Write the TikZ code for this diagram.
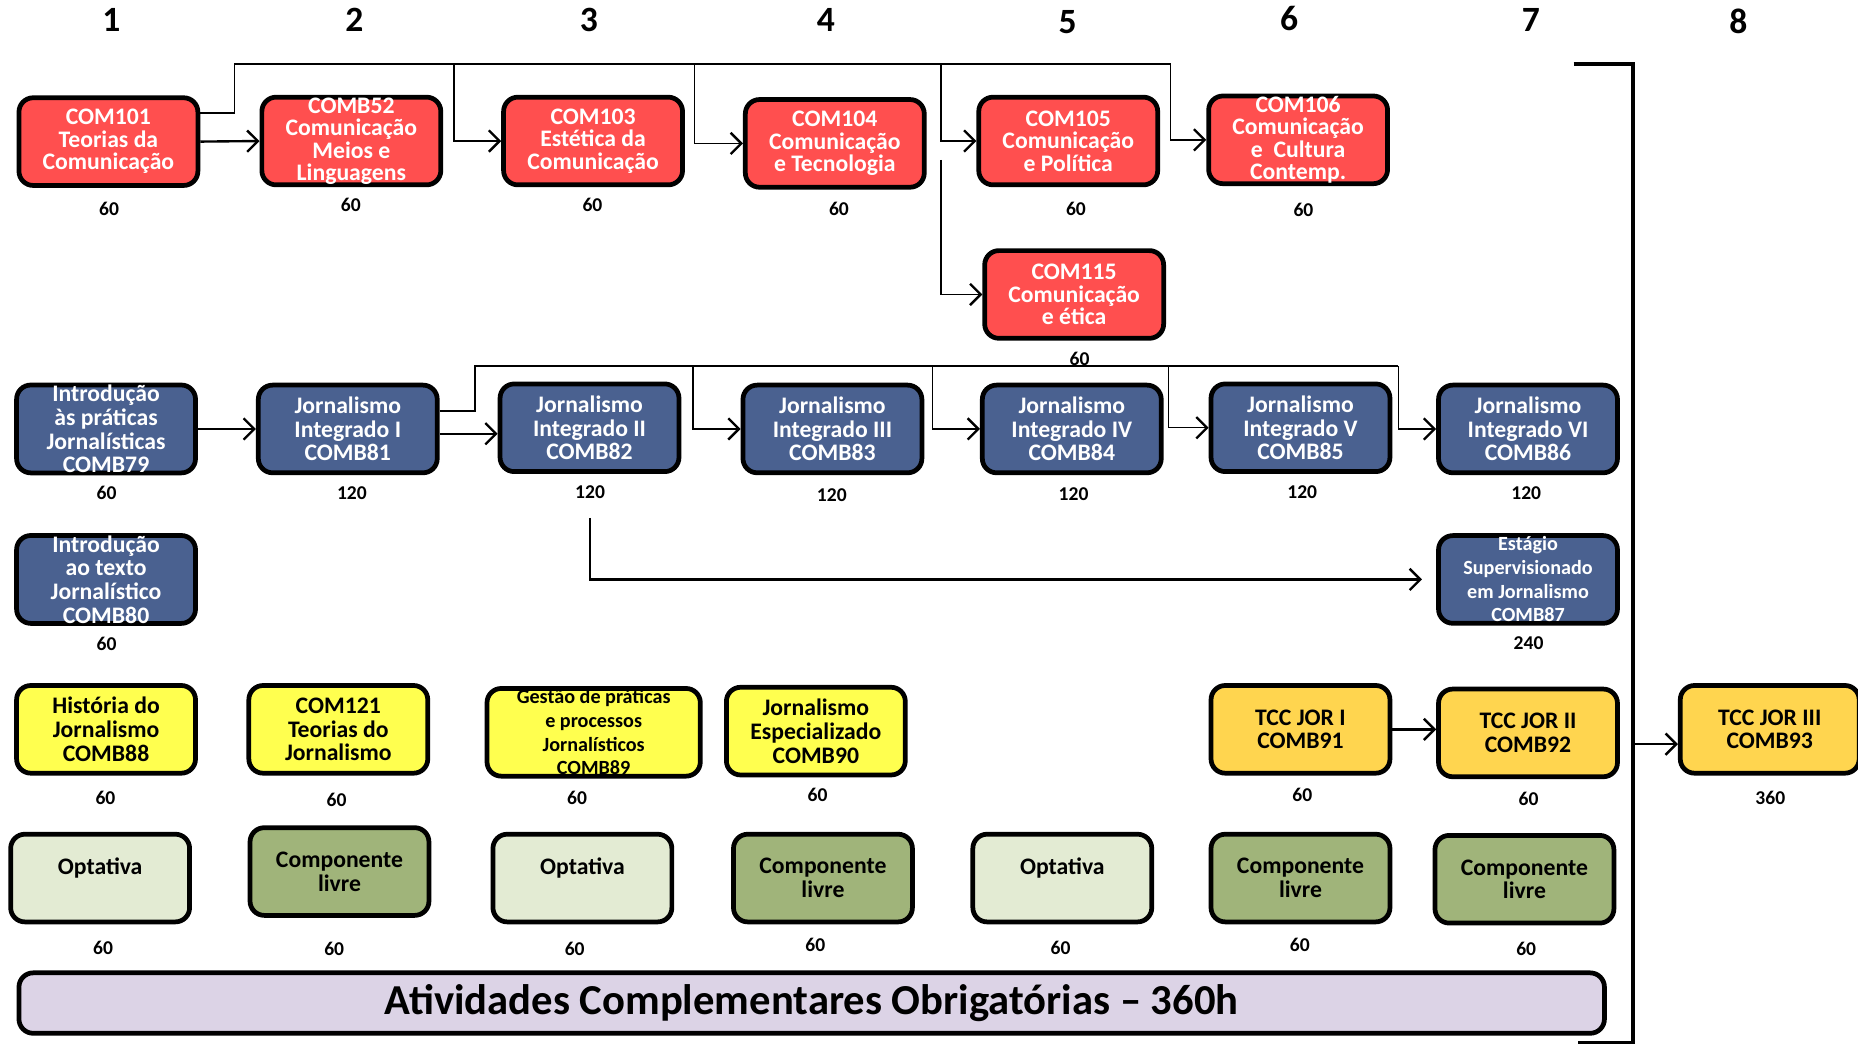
\documentclass[tikz,border=0pt]{standalone}
\usepackage{fontspec}
\setmainfont{Carlito}
\usetikzlibrary{arrows.meta}

\definecolor{comred}{HTML}{FF4F4F}
\definecolor{jorblue}{HTML}{4A6190}
\definecolor{hisyellow}{HTML}{FFFF4F}
\definecolor{tccgold}{HTML}{FFD54F}
\definecolor{optgreen}{HTML}{E3EBD3}
\definecolor{livgreen}{HTML}{A0B47A}
\definecolor{acolilac}{HTML}{DCD3E6}

\tikzset{
  course/.style={draw=black, line width=4pt, rounded corners=12pt,
    minimum width=151pt, minimum height=74pt, inner sep=0pt, align=center,
    font=\bfseries\fontsize{20}{20}\selectfont},
  redbox/.style={course, fill=comred, text=white,
    font=\bfseries\fontsize{20}{19}\selectfont},
  bluebox/.style={course, fill=jorblue, text=white},
  yellowbox/.style={course, fill=hisyellow},
  goldbox/.style={course, fill=tccgold},
  optbox/.style={course, fill=optgreen},
  livbox/.style={course, fill=livgreen},
  hours/.style={font=\bfseries\fontsize{16.5}{16.5}\selectfont},
  colnum/.style={font=\bfseries\fontsize{30}{30}\selectfont},
  link/.style={line width=2pt, -{Straight Barb[length=9pt,width=18pt,line width=2pt]}},
  bus/.style={line width=1.2pt},
  drop/.style={bus, -{Straight Barb[length=9pt,width=18pt,line width=2pt]}},
}

\begin{document}
\begin{tikzpicture}[x=1pt,y=-1pt]
\useasboundingbox (0,0) rectangle (1568,881);

% semesters
\foreach \n/\x/\y in {1/94/17,2/299/17,3/497/17,4/697/17,5/901/19,6/1088/16,7/1292/17,8/1467/18}
{
    \node[colnum] (col\n) at (\x,\y) {\n};
}

% first row
\node[redbox] (com101) at (91.5,119.5) {COM101\\Teorias da\\Comunicação};
\node[redbox] (comb52) at (296.5,119) {COMB52\\Comunicação\\Meios e\\Linguagens};
\node[redbox] (com103) at (500.5,119) {COM103\\Estética da\\Comunicação};
\node[redbox] (com104) at (704.5,121) {COM104\\Comunicação\\e Tecnologia};
\node[redbox] (com105) at (901.5,119) {COM105\\Comunicação\\e Política};
\node[redbox] (com106) at (1095.5,118) {COM106\\Comunicação\\e\ \ Cultura\\Contemp.};
\node[redbox] (com115) at (906.5,248.5) {COM115\\Comunicação\\e ética};

% second row
\node[bluebox] (comb79) at (89.5,362) {Introdução\\às práticas\\Jornalísticas\\COMB79};
\node[bluebox] (comb81) at (293.5,362) {Jornalismo\\Integrado I\\COMB81};
\node[bluebox] (comb82) at (497.5,361) {Jornalismo\\Integrado II\\COMB82};
\node[bluebox] (comb83) at (702.5,362) {Jornalismo\\Integrado III\\COMB83};
\node[bluebox] (comb84) at (904.5,362) {Jornalismo\\Integrado IV\\COMB84};
\node[bluebox] (comb85) at (1097.5,361) {Jornalismo\\Integrado V\\COMB85};
\node[bluebox] (comb86) at (1289.5,362) {Jornalismo\\Integrado VI\\COMB86};
\node[bluebox] (comb80) at (89.5,489) {Introdução\\ao texto\\Jornalístico\\COMB80};
\node[bluebox, font=\bfseries\fontsize{17}{20}\selectfont] (comb87) at (1289.5,489)
    {Estágio\\Supervisionado\\em Jornalismo\\COMB87};

% third row
\node[yellowbox] (comb88) at (89.5,615.5) {História do\\Jornalismo\\COMB88};
\node[yellowbox] (com121) at (285.5,615.5) {COM121\\Teorias do\\Jornalismo};
\node[yellowbox, minimum width=180pt, font=\bfseries\fontsize{17}{20}\selectfont] (comb89) at (501,618)
    {Gestão de práticas\\e processos\\Jornalísticos\\COMB89};
\node[yellowbox] (comb90) at (688.5,617) {Jornalismo\\Especializado\\COMB90};
\node[goldbox] (comb91) at (1097.5,615.5) {TCC JOR I\\COMB91};
\node[goldbox] (comb92) at (1289.5,618.5) {TCC JOR II\\COMB92};
\node[goldbox] (comb93) at (1493.5,615.5) {TCC JOR III\\COMB93};

% fourth row
\node[optbox] (opt1) at (84.5,741) {Optativa\\\mbox{}};
\node[livbox] (liv2) at (286.5,735.5) {Componente\\livre};
\node[optbox] (opt3) at (491.5,741) {Optativa\\\mbox{}};
\node[livbox] (liv4) at (694.5,741) {Componente\\livre};
\node[optbox] (opt5) at (896.5,741) {Optativa\\\mbox{}};
\node[livbox] (liv6) at (1097.5,741) {Componente\\livre};
\node[livbox] (liv7) at (1286.5,742) {Componente\\livre};

% hours
\foreach \nm/\x/\y/\h in {101/92/176/60, 52/296/173/60, 103/500/173/60, 104/708/176/60,
    105/908/176/60, 106/1100/177/60, 115/911/303/60,
    79/90/416/60, 81/297/416/120, 82/498/415/120, 83/702/418/120, 84/906/417/120,
    85/1099/415/120, 86/1288/416/120, 87/1290/543/240, 80/90/543/60,
    88/89/673/60, 121/284/675/60, 89/487/673/60, 90/690/671/60,
    91/1099/671/60, 92/1290/674/60, 93/1494/673/360,
    o1/87/800/60, l2/282/801/60, o3/485/801/60, l4/688/797/60,
    o5/895/800/60, l6/1097/797/60, l7/1288/801/60}
{
    \node[hours] (h\nm) at (\x,\y) {\h};
}

% complementary activities
\node[draw=black, line width=4pt, rounded corners=12pt, fill=acolilac,
    minimum width=1338pt, minimum height=51pt, inner sep=0pt,
    font=\bfseries\fontsize{36}{36}\selectfont] (acomp) at (685,846.5)
    {\raisebox{-4pt}{Atividades Complementares Obrigatórias -- 360h}};

% prerequisites, first row
\coordinate (b1) at (198,54);
\coordinate (b1e) at (988,54);
\coordinate (d103) at (383,54);
\coordinate (d104) at (586,54);
\coordinate (d105) at (794,54);
\coordinate (d115) at (794,135);
\draw[link] (com101.east) -- (comb52.west);
\draw[bus] ([yshift=24pt]com101.east) -| (b1) -- (b1e);
\draw[drop] (d103) |- (com103.west);
\draw[drop] (d104) |- (com104.west);
\draw[drop] (d105) |- (com105.west);
\draw[drop] (b1e) |- (com106.west);
\draw[drop] (d115) |- (com115.west);

% prerequisites, second row
\coordinate (b2) at (401,309);
\coordinate (b2e) at (1180,309);
\coordinate (d83) at (585,309);
\coordinate (d84) at (787,309);
\coordinate (d85) at (986,309);
\coordinate (d87) at (498,437);
\draw[link] (comb79.east) -- (comb81.west);
\draw[link] ([yshift=-4pt]comb81.east) -- ([yshift=-4pt]comb81.east -| comb82.west);
\draw[bus] ([yshift=15pt]comb81.east) -| (b2) -- (b2e);
\draw[drop] (d83) |- (comb83.west);
\draw[drop] (d84) |- (comb84.west);
\draw[drop] (d85) |- (comb85.west);
\draw[drop] (b2e) |- (comb86.west);
\draw[link, shorten >=12pt] (d87) |- (comb87.west);

% final project
\draw[link] (comb91.east) -- (comb91.east -| comb92.west);
\draw[line width=3pt] (1328,54) -| (1378,880) -- (1332,880);
\coordinate (d93) at (1380,628);
\draw[link] (d93) -- (d93 -| comb93.west);
\end{tikzpicture}
\end{document}
